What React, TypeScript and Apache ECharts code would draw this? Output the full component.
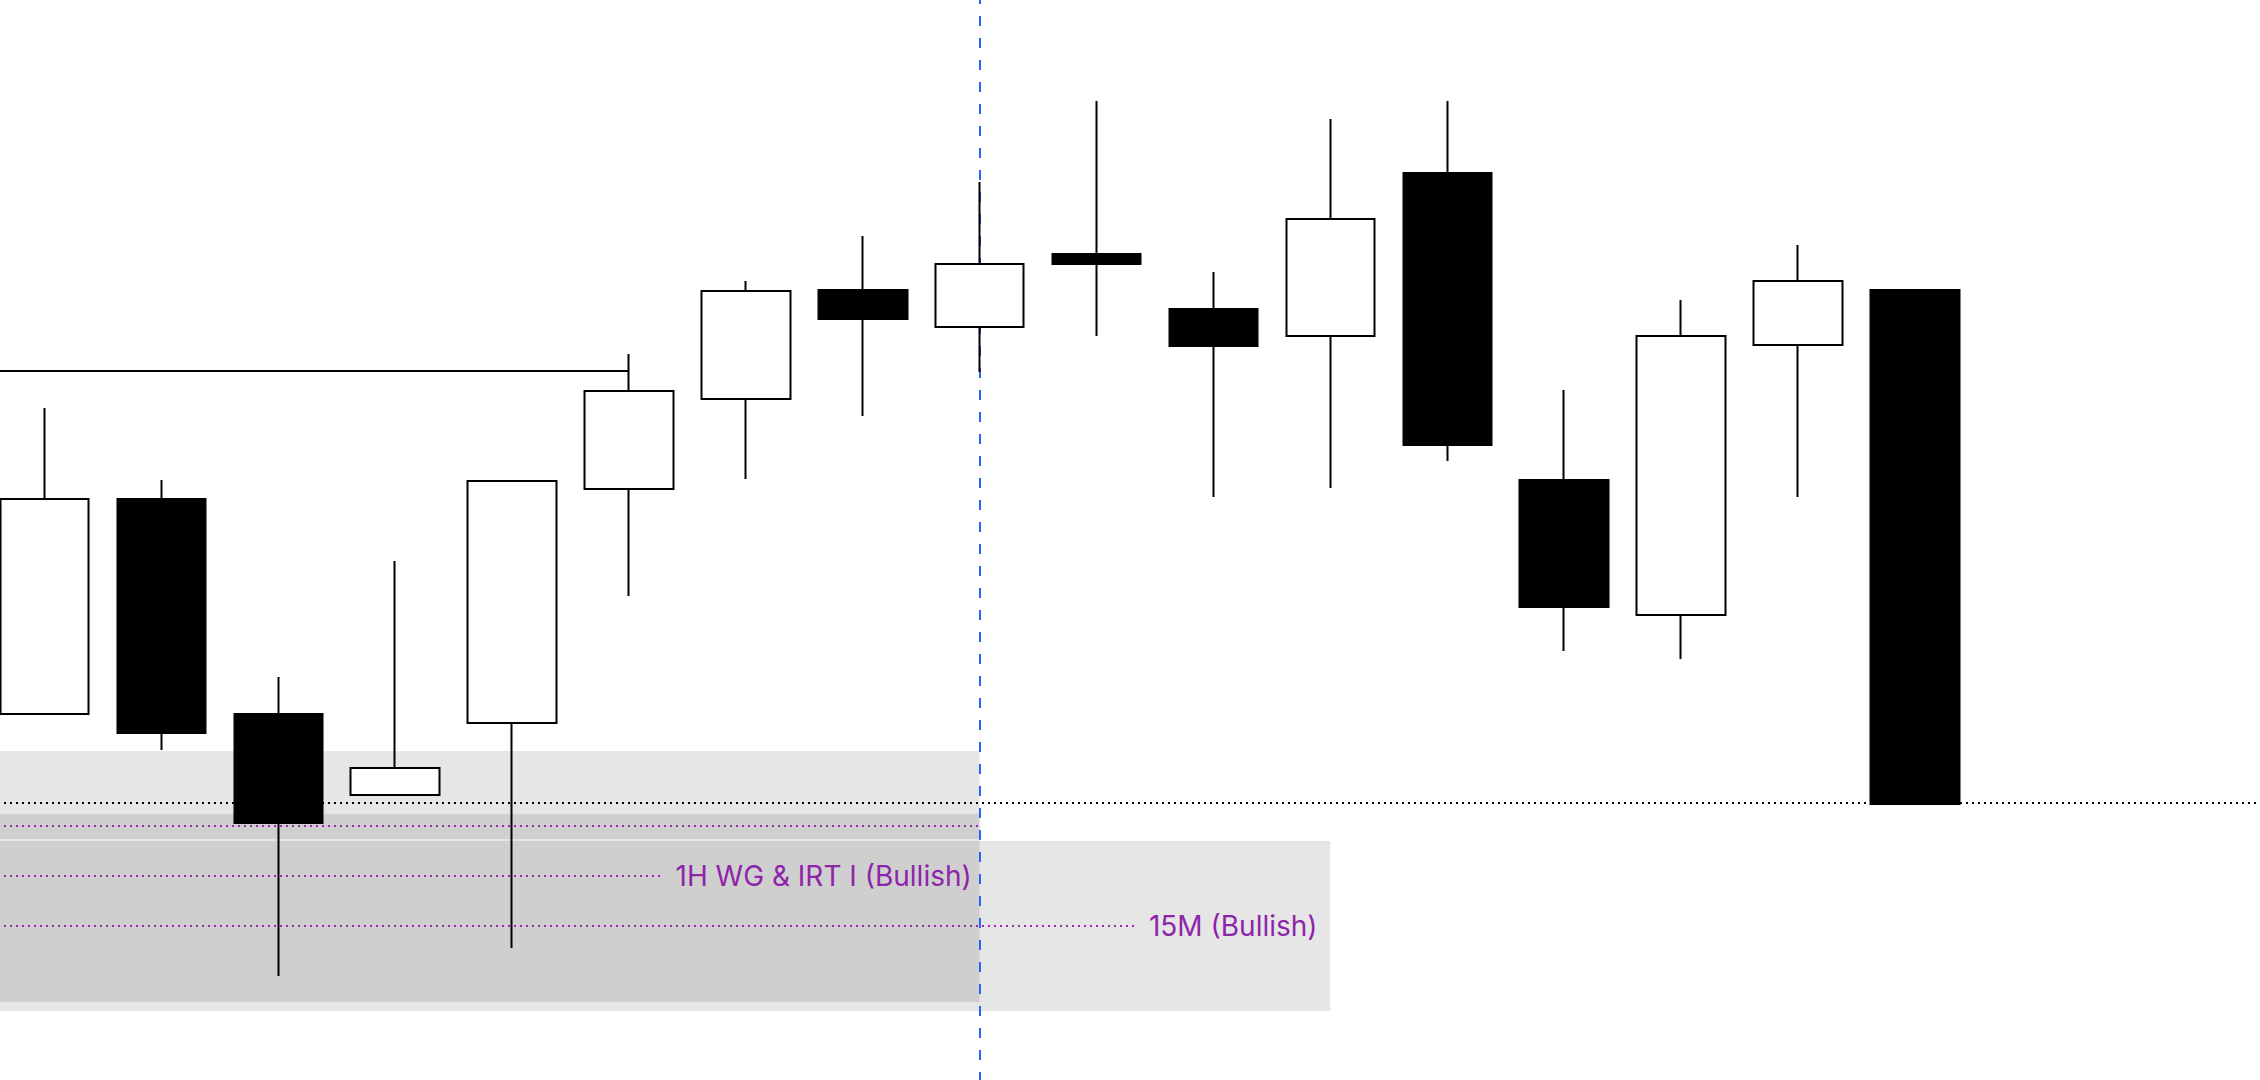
import React, { useEffect, useRef } from "react";
import * as echarts from "echarts";

// 15-minute slots (last three are empty future slots)
const categories = [
  "09:00", "09:15", "09:30", "09:45", "10:00", "10:15", "10:30", "10:45",
  "11:00", "11:15", "11:30", "11:45", "12:00", "12:15", "12:30", "12:45",
  "13:00", "13:15", "13:30", "13:45",
];

const opens = [2036.6, 2058.1, 2036.6, 2028.5, 2035.7, 2059.1, 2068.1, 2079.0, 2075.3, 2082.6, 2077.1, 2074.4, 2090.7, 2060.0, 2046.5, 2073.5, 2079.0];
const closes = [2058.1, 2034.7, 2025.7, 2031.2, 2059.9, 2068.9, 2078.9, 2076.1, 2081.6, 2081.6, 2073.4, 2086.1, 2063.5, 2047.3, 2074.4, 2079.9, 2027.6];
const lows = [2036.6, 2033.0, 2010.4, 2028.5, 2013.2, 2048.4, 2060.1, 2066.4, 2070.8, 2074.4, 2058.3, 2059.2, 2061.9, 2042.9, 2042.1, 2058.3, 2027.6];
const highs = [2067.2, 2060.0, 2040.3, 2051.9, 2059.9, 2072.6, 2079.9, 2084.4, 2089.8, 2097.9, 2080.8, 2096.1, 2097.9, 2069.0, 2078.0, 2083.5, 2079.0];

// price range
const yMin = 2000;
const yMax = 2108;

// reference levels
const prevHigh = { price: 2070.9, endIndex: 5 };
const closeLevel = 2027.7;
const sessionIndex = 8;

// zones: [topPrice, bottomPrice, endIndex]
const zones = [
  { top: 2032.9, bottom: 2024.1, end: 8 },
  { top: 2026.6, bottom: 2007.8, end: 8 },
  { top: 2023.9, bottom: 2006.9, end: 11 },
];

// purple levels
const levels = [
  { price: 2025.4, end: 8, label: "" },
  { price: 2020.4, end: 5.27, label: "1H WG & IRT I (Bullish)" },
  { price: 2015.4, end: 9.32, label: "15M (Bullish)" },
];

const PURPLE_LINE = "#9c27b0";
const PURPLE_TEXT = "#8e24aa";

const BAND = 116.9; // px per candle slot
const FIRST_CENTER = 44; // px of first candle centre in the view

export default function App() {
  const ref = useRef<HTMLDivElement>(null);

  useEffect(() => {
    if (!ref.current) return;
    const chart = echarts.init(ref.current, undefined, { renderer: "svg" });
    const startX = -0.5;
    const endX = categories.length - 0.5;

    const candleData = opens.map((o, i) => [o, closes[i], lows[i], highs[i]]);

    const markLines: any[] = [];
    markLines.push([
      { coord: [startX, prevHigh.price], lineStyle: { color: "#000", width: 2, type: "solid" }, label: { show: false } },
      { coord: [prevHigh.endIndex, prevHigh.price] },
    ]);
    markLines.push([
      { coord: [startX, closeLevel], lineStyle: { color: "#000", width: 2, type: [2, 4] }, label: { show: false } },
      { coord: [endX, closeLevel] },
    ]);
    levels.forEach((lv) => {
      markLines.push([
        {
          coord: [startX, lv.price],
          lineStyle: { color: PURPLE_LINE, width: 2, type: [2, 4] },
          label: lv.label
            ? {
                show: true,
                position: "end",
                distance: 15,
                formatter: lv.label,
                color: PURPLE_TEXT,
                fontSize: 28,
                fontFamily: "Inter, 'Noto Sans', sans-serif",
              }
            : { show: false },
        },
        { coord: [lv.end, lv.price] },
      ]);
    });
    markLines.push({
      xAxis: sessionIndex,
      lineStyle: { color: "#2962ff", width: 2, type: [10, 12], dashOffset: 2 },
      label: { show: false },
    });

    chart.setOption({
      animation: false,
      backgroundColor: "#ffffff",
      grid: { left: 0, right: 0, top: 0, bottom: 0, containLabel: false },
      xAxis: [
        { type: "category", data: categories, show: false, boundaryGap: true },
        { type: "value", min: startX, max: endX, show: false, splitLine: { show: false } },
      ],
      yAxis: [{ type: "value", min: yMin, max: yMax, show: false, splitLine: { show: false } }],
      series: [
        {
          name: "zones",
          type: "line",
          xAxisIndex: 1,
          data: [],
          z: 1,
          silent: true,
          markArea: {
            silent: true,
            itemStyle: { color: "rgba(0,0,0,0.098)" },
            data: zones.map((zn) => [
              { coord: [startX, zn.top] },
              { coord: [zn.end, zn.bottom] },
            ]),
          },
        },
        {
          name: "levels",
          type: "line",
          xAxisIndex: 1,
          data: [],
          z: 2,
          silent: true,
          markLine: {
            silent: true,
            symbol: ["none", "none"],
            precision: 2,
            data: markLines,
          },
        },
        {
          name: "price",
          type: "candlestick",
          xAxisIndex: 0,
          z: 5,
          barWidth: 89,
          data: candleData,
          itemStyle: {
            color: "#ffffff",
            color0: "#000000",
            borderColor: "#000000",
            borderColor0: "#000000",
            borderWidth: 2,
          },
        },
      ],
    });
    return () => chart.dispose();
  }, []);

  const innerWidth = BAND * categories.length;
  const innerLeft = FIRST_CENTER - BAND / 2;

  return (
    <div
      style={{
        position: "fixed",
        left: 0,
        top: 0,
        width: 2260,
        height: 1080,
        overflow: "hidden",
        background: "#fff",
      }}
    >
      <div
        ref={ref}
        style={{ position: "absolute", left: innerLeft, top: 0, width: innerWidth, height: 1080 }}
      />
    </div>
  );
}
